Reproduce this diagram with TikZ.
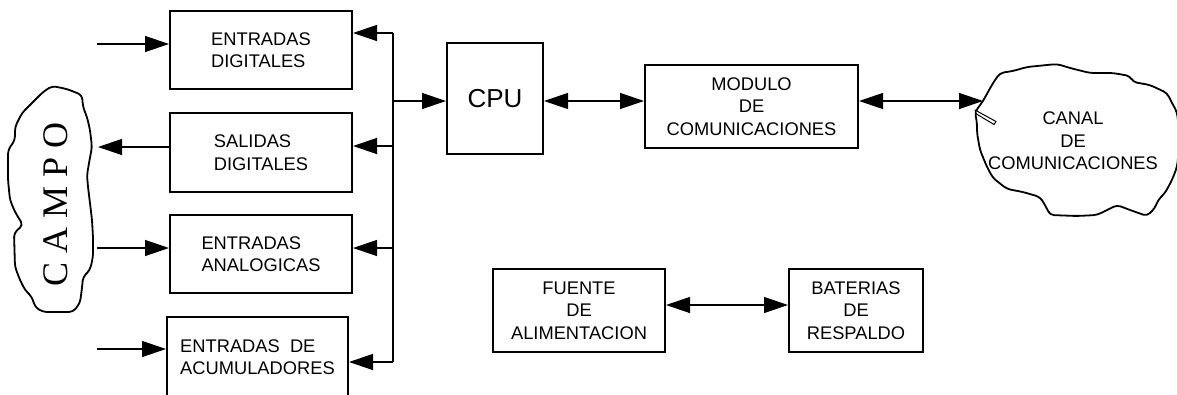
\documentclass[tikz,border=0pt]{standalone}
\usepackage{fontspec}
\setmainfont{Liberation Sans}
\newfontfamily\campofont{Liberation Serif}
\usetikzlibrary{arrows.meta}
\begin{document}
\begin{tikzpicture}[x=1pt,y=-1pt,
  box/.style={draw,line width=2pt,inner sep=0pt,align=center,font=\fontsize{18.3}{22.5}\selectfont},
  lbox/.style={box,align=left},
  lbl/.style={inner sep=0pt,align=center,font=\fontsize{18.3}{22.5}\selectfont},
  conn/.style={line width=1.3pt},
  tip/.style={conn,-{Triangle[length=24pt,width=16pt]}},
  both/.style={conn,{Triangle[length=24pt,width=16pt]}-{Triangle[length=24pt,width=16pt]}},
  cloudline/.style={line width=1.8pt,line join=round,rounded corners=4pt}
]
\useasboundingbox[fill=white] (0,0) rectangle (1177,394);

% CAMPO cloud
\draw[cloudline] (52,86) -- (67,89) -- (82,95) -- (83,107) -- (87,117) -- (90,130) -- (92,147)
  -- (89,163) -- (87,175) -- (88,187) -- (90,203) -- (92,220) -- (93,237) -- (93,257)
  -- (90,270) -- (83,277) -- (82,288) -- (80,303) -- (73,312) -- (57,312) -- (43,312)
  -- (35,307) -- (32,297) -- (25,290) -- (20,280) -- (15,267) -- (14,233) -- (23,225)
  -- (15,212) -- (10,200) -- (8,180) -- (8,150) -- (15,140) -- (15,127) -- (22,113)
  -- (33,102) -- (43,92) -- cycle;
\node[rotate=90,anchor=base,inner sep=0pt,font=\campofont\fontsize{36}{40}\selectfont] (campo) at (67,204) {C A M P O};

% CANAL cloud
\draw[cloudline] (983,101) -- (993,83) -- (1000,73) -- (1013,71) -- (1027,67) -- (1057,64)
  -- (1070,68) -- (1090,73) -- (1113,73) -- (1130,76) -- (1133,82) -- (1150,85)
  -- (1167,93) -- (1172,103) -- (1177,112) -- (1180,140) -- (1177,167) -- (1172,180)
  -- (1165,193) -- (1158,200) -- (1155,208) -- (1147,216) -- (1130,210) -- (1117,205)
  -- (1097,215) -- (1077,216) -- (1050,215) -- (1045,205) -- (1040,197) -- (1023,192)
  -- (1007,189) -- (993,178) -- (987,167) -- (980,150) -- (977,133) -- (977,123)
  -- (975,112) -- cycle;
\draw[line width=1pt,fill=white,line join=round] (975,110) -- (996,121.5) -- (994,124.5) -- (976.5,114) -- cycle;
\node[lbl] (canaltxt) at (1073,141) {CANAL\\DE\\COMUNICACIONES};
\coordinate (canal) at (983,101);

% I/O boxes
\node[lbox,minimum width=182pt,minimum height=78pt] (ed) at (261,50) {ENTRADAS\\DIGITALES};
\node[lbox,minimum width=182pt,minimum height=79pt] (sd) at (261,152.5) {SALIDAS\\DIGITALES};
\node[lbox,minimum width=182pt,minimum height=78pt] (ea) at (261,254) {ENTRADAS\\ANALOGICAS};
\node[lbox,minimum width=181pt,minimum height=80pt] (ac) at (257.5,357) {ENTRADAS\ \ DE\\ACUMULADORES};

% CPU and modules
\node[box,minimum width=96pt,minimum height=111pt,font=\fontsize{26}{30}\selectfont] (cpu) at (495,98.5) {CPU};
\node[box,minimum width=213pt,minimum height=83pt] (mod) at (751.5,106.5) {MODULO\\DE\\COMUNICACIONES};
\node[box,minimum width=172pt,minimum height=83pt] (fue) at (579,310.5) {FUENTE\\DE\\ALIMENTACION};
\node[box,minimum width=134pt,minimum height=83pt] (bat) at (856,310.5) {BATERIAS\\DE\\RESPALDO};

% field-side coordinates
\coordinate (i1) at (97,44);
\coordinate (o2) at (98,147);
\coordinate (i3) at (97,248);
\coordinate (i4) at (97,349);

% bus coordinates
\coordinate (b1) at (393,33);
\coordinate (b2) at (393,146);
\coordinate (bc) at (393,101);
\coordinate (b3) at (393,248);
\coordinate (b4) at (393,362);

% field arrows
\draw[tip] (i1) -- (i1 -| ed.west);
\draw[tip] (o2 -| sd.west) -- (o2);
\draw[tip] (i3) -- (i3 -| ea.west);
\draw[tip] (i4) -- (i4 -| ac.west);

% bus
\draw[conn] (b1) -- (b4);
\draw[tip] (b1) -- (b1 -| ed.east);
\draw[tip] (b2) -- (b2 -| sd.east);
\draw[tip] (b3) -- (b3 -| ea.east);
\draw[tip] (b4) -- (b4 -| ac.east);
\draw[tip] (bc) -- (bc -| cpu.west);

% CPU - module - channel
\draw[both] (cpu.east |- bc) -- (mod.west |- bc);
\draw[both] (mod.east |- bc) -- (canal);

% power
\draw[both] (fue.east |- 0,305) -- (bat.west |- 0,305);
\end{tikzpicture}
\end{document}
